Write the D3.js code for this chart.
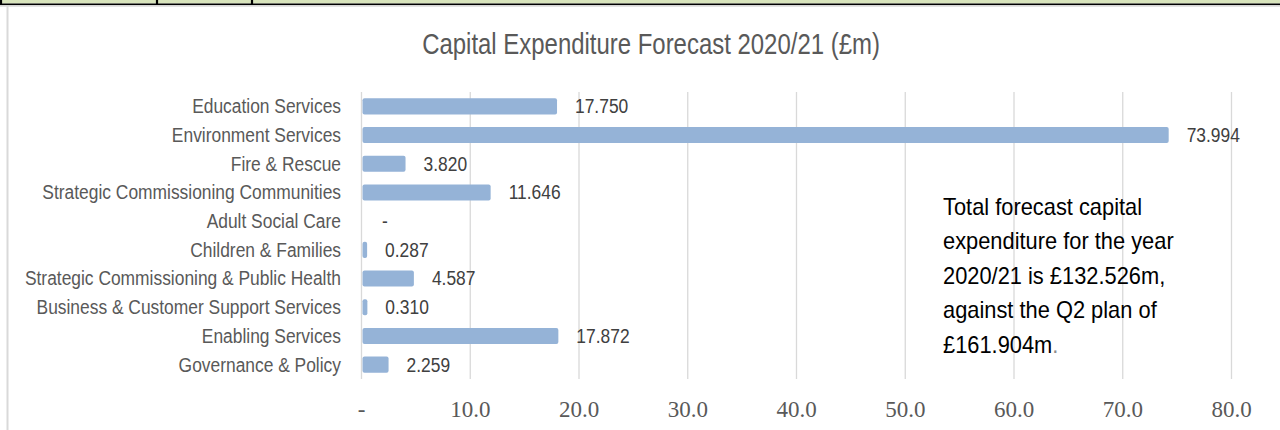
<!DOCTYPE html>
<html>
<head>
<meta charset="utf-8">
<script src="https://cdn.jsdelivr.net/npm/d3@7"></script>
<style>
  body { margin: 0; background: #fff; }
  svg { display: block; }
</style>
</head>
<body>
<div id="chart"></div>
<script>
var categories = [
    'Education Services',
    'Environment Services',
    'Fire & Rescue',
    'Strategic Commissioning Communities',
    'Adult Social Care',
    'Children & Families',
    'Strategic Commissioning & Public Health',
    'Business & Customer Support Services',
    'Enabling Services',
    'Governance & Policy'
];
var values = [17.750, 73.994, 3.820, 11.646, 0, 0.287, 4.587, 0.310, 17.872, 2.259];
var xTicks = [0, 10, 20, 30, 40, 50, 60, 70, 80];
var chartTitle = 'Capital Expenditure Forecast 2020/21 (£m)';
var noteLines = [
    'Total forecast capital',
    'expenditure for the year',
    '2020/21 is £132.526m,',
    'against the Q2 plan of',
    '£161.904m'
];

var width = 1280, height = 430;
var svg = d3.select('#chart').append('svg')
            .attr('width', width)
            .attr('height', height);

var x = d3.scaleLinear().domain([0, 80]).range([361, 1231]);
var y = d3.scaleBand().domain(categories)
          .range([92, 379])
          .paddingInner(0.44)
          .paddingOuter(0.22);

// narrow text: Arial Narrow look-alike by squeezing Liberation Sans
function narrowText(sel, tx, ty, k) {
    sel.attr('x', 0).attr('y', 0)
       .attr('transform', function (d, i) {
           return 'translate(' + tx(d, i) + ',' + ty(d, i) + ') scale(' + k + ',1)';
       });
}

// green strip across the top (table row above the chart)
svg.append('rect').attr('x', 0).attr('y', 0).attr('width', width).attr('height', 3.5)
   .style('fill', '#d8e4bc');
svg.append('line').attr('x1', 0).attr('x2', width).attr('y1', 4.2).attr('y2', 4.2)
   .style('stroke', '#000').style('stroke-width', 1.6);
svg.append('line').attr('x1', 0).attr('x2', width).attr('y1', 5.8).attr('y2', 5.8)
   .style('stroke', '#c8c8c8').style('stroke-width', 1.2);
[1, 157, 252].forEach(function (vx) {
    svg.append('line').attr('x1', vx).attr('x2', vx).attr('y1', 0).attr('y2', 4)
       .style('stroke', '#000').style('stroke-width', 2.2);
});
// left frame edge
svg.append('line').attr('x1', 7.5).attr('x2', 7.5).attr('y1', 6).attr('y2', height)
   .style('stroke', '#d9d9d9').style('stroke-width', 2);

// title
svg.append('text').datum(chartTitle)
   .text(function (d) { return d; })
   .call(narrowText, function () { return 651; }, function () { return 53.5; }, 0.826)
   .attr('text-anchor', 'middle')
   .style('font-family', '"Liberation Sans", Arial, sans-serif')
   .style('font-size', '29px')
   .style('fill', '#595959');

// x axis with gridlines
var xAxis = d3.axisBottom(x)
              .tickValues(xTicks)
              .tickSize(-(379 - 92))
              .tickFormat(function (d) { return d === 0 ? '-' : d3.format('.1f')(d); });

var gx = svg.append('g')
            .attr('transform', 'translate(0,379)')
            .call(xAxis);
gx.select('.domain').remove();
gx.selectAll('.tick line')
  .style('stroke', '#d9d9d9')
  .style('stroke-width', 1.3);
gx.selectAll('.tick text')
  .attr('y', 38)
  .attr('dy', 0)
  .style('font-family', '"Liberation Serif", "DejaVu Serif", serif')
  .style('font-size', '23px')
  .style('fill', '#595959');

// category labels
svg.append('g').selectAll('text')
   .data(categories)
   .enter()
   .append('text')
   .text(function (d) { return d; })
   .call(narrowText, function () { return x(0) - 20; },
         function (d) { return y(d) + y.bandwidth() / 2; }, 0.87)
   .attr('text-anchor', 'end')
   .attr('dominant-baseline', 'central')
   .style('font-family', '"Liberation Sans", Arial, sans-serif')
   .style('font-size', '20px')
   .style('fill', '#595959');

// bars
svg.append('g').selectAll('rect')
   .data(values)
   .enter()
   .append('rect')
   .attr('x', x(0) + 1.5)
   .attr('y', function (d, i) { return y(categories[i]); })
   .attr('width', function (d) { return d > 0 ? x(d) - x(0) + 1.5 : 0; })
   .attr('height', y.bandwidth())
   .attr('rx', 2)
   .style('fill', '#95b3d7');

// value labels
svg.append('g').selectAll('text')
   .data(values)
   .enter()
   .append('text')
   .text(function (d) { return d === 0 ? '-' : d3.format('.3f')(d); })
   .call(narrowText, function (d) { return x(d) + 21; },
         function (d, i) { return y(categories[i]) + y.bandwidth() / 2; }, 0.87)
   .attr('dominant-baseline', 'central')
   .style('font-family', '"Liberation Sans", Arial, sans-serif')
   .style('font-size', '20px')
   .style('fill', '#404040');

// note text box
var note = svg.append('text')
              .attr('transform', 'translate(943,0) scale(0.95,1)')
              .style('font-family', '"Liberation Sans", Arial, sans-serif')
              .style('font-size', '23px')
              .style('fill', '#000');
note.selectAll('tspan')
    .data(noteLines)
    .enter()
    .append('tspan')
    .attr('x', 0)
    .attr('y', function (d, i) { return 215 + i * 34.5; })
    .text(function (d) { return d; });
note.append('tspan').text('.').style('fill', '#8c8c8c');
</script>
</body>
</html>
